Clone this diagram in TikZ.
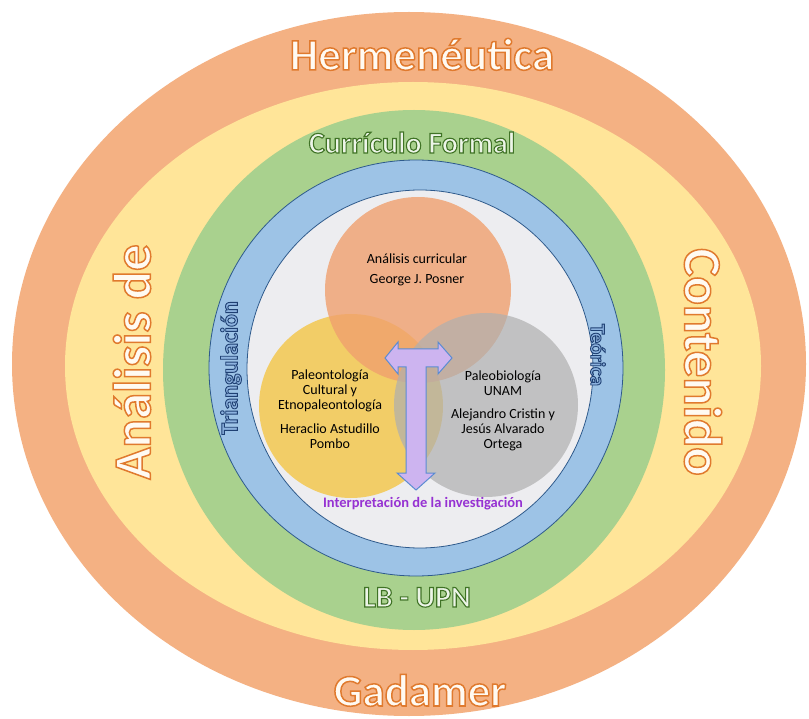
\documentclass[tikz,border=0pt]{standalone}
\usepackage{fontspec}
\setmainfont{Carlito}
\definecolor{ringorange}{RGB}{244,177,131}
\definecolor{ringyellow}{RGB}{255,229,153}
\definecolor{ringgreen}{RGB}{169,209,142}
\definecolor{ringblue}{RGB}{157,195,230}
\definecolor{innergray}{RGB}{237,237,240}
\definecolor{darkblue}{RGB}{46,90,140}
\definecolor{vennorange}{RGB}{240,160,110}
\definecolor{vennyellow}{RGB}{244,200,80}
\definecolor{venngray}{RGB}{175,175,175}
\definecolor{arrowfill}{RGB}{205,180,240}
\definecolor{arrowline}{RGB}{91,140,210}
\definecolor{purpletext}{RGB}{150,50,210}
\definecolor{creamwhite}{RGB}{255,250,242}
\definecolor{palegreen}{RGB}{238,246,232}
\definecolor{paleblue}{RGB}{140,178,222}
% outline text: #1 fill colour, #2 stroke rgb, #3 fill rgb, #4 stroke width, #5 text
\newcommand{\outlinetext}[5]{{\color{#1}\special{pdf:literal direct 2 Tr #4 w #2 RG #3 rg}#5\special{pdf:literal direct 0 Tr 0.4 w}}}
\newcommand{\orangeword}[1]{\outlinetext{creamwhite}{0.88 0.48 0.18}{1 0.98 0.95}{1.5}{#1}}
\newcommand{\greenword}[1]{\outlinetext{palegreen}{0.25 0.45 0.15}{0.93 0.96 0.91}{1.1}{#1}}
\newcommand{\blueword}[1]{\outlinetext{paleblue}{0.12 0.25 0.45}{0.55 0.7 0.87}{0.9}{#1}}
\tikzset{
  bluering/.style={draw=darkblue, line width=0.8pt},
  venn/.style={circle, draw=none, minimum size=#1, inner sep=0pt},
  venntext/.style={font=\fontsize{14}{15}\selectfont, align=center, text=black, inner sep=0pt},
  bigword/.style={font=\fontsize{45}{50}\selectfont\bfseries, inner sep=0pt},
  sideword/.style={font=\fontsize{53}{58}\selectfont\bfseries, inner sep=0pt},
  midword/.style={font=\fontsize{30}{34}\selectfont\bfseries, inner sep=0pt},
  smallword/.style={font=\fontsize{24}{28}\selectfont\bfseries, inner sep=0pt},
  arrowshape/.style={fill=arrowfill, draw=arrowline, line width=1pt, line join=miter}
}
\begin{document}
\begin{tikzpicture}[x=1pt,y=-1pt]
\useasboundingbox (0,0) rectangle (809,719);
\fill[white] (0,0) rectangle (809,719);
% rings
\fill[ringorange] (409,364) ellipse [x radius=397, y radius=352];
\fill[ringyellow] (413,366) ellipse [x radius=348, y radius=284];
\fill[ringgreen] (414,370) ellipse [x radius=251, y radius=260];
\filldraw[fill=ringblue, bluering] (416,368) ellipse [x radius=207, y radius=208];
\filldraw[fill=innergray, bluering] (420,369) ellipse [x radius=173, y radius=179];
% venn circles
\node[venn=184pt, fill=vennyellow, fill opacity=0.85] (cy) at (351,406) {};
\node[venn=186pt, fill=vennorange, fill opacity=0.8] (co) at (418,290) {};
\node[venn=184pt, fill=venngray, fill opacity=0.7] (cg) at (486,405) {};
% T arrow
\draw[arrowshape] (385,358) -- (398,342) -- (398,349) -- (438,349) -- (438,342) -- (452,358)
  -- (438,374) -- (438,367) -- (426,367) -- (426,473) -- (435,473) -- (416,490)
  -- (397,473) -- (406,473) -- (406,367) -- (398,367) -- (398,374) -- cycle;
% venn texts
\node[venntext] (t1) at (417,259) {Análisis curricular};
\node[venntext] (t2) at (417,280) {George J. Posner};
\node[venntext] (l1) at (330,391) {Paleontología\\Cultural y\\Etnopaleontología};
\node[venntext] (l2) at (330,436) {Heraclio Astudillo\\Pombo};
\node[venntext] (r1) at (503,383) {Paleobiología\\UNAM};
\node[venntext] (r2) at (503,430) {Alejandro Cristin y\\Jesús Alvarado\\Ortega};
\node[font=\fontsize{14.5}{16}\selectfont\bfseries, text=purpletext, inner sep=0pt] (interp) at (423,504) {Interpretación de la investigación};
% ring labels
\node[bigword, anchor=base] (herm) at (422,70) {\orangeword{Hermenéutica}};
\node[bigword, anchor=base] (gad) at (420,706) {\orangeword{Gadamer}};
\node[sideword, rotate=90] (anal) at (132,362) {\orangeword{Análisis de}};
\node[sideword, rotate=-90] (cont) at (703,362) {\orangeword{Contenido}};
\node[midword, anchor=base] (curr) at (412,153) {\greenword{Currículo Formal}};
\node[midword, anchor=base] (lbupn) at (417,607) {\greenword{LB - UPN}};
\node[smallword, rotate=90] (tri) at (231,368) {\blueword{Triangulación}};
\node[smallword, rotate=-90, font=\fontsize{21}{24}\selectfont\bfseries] (teo) at (598,355) {\blueword{Teórica}};
\end{tikzpicture}
\end{document}
